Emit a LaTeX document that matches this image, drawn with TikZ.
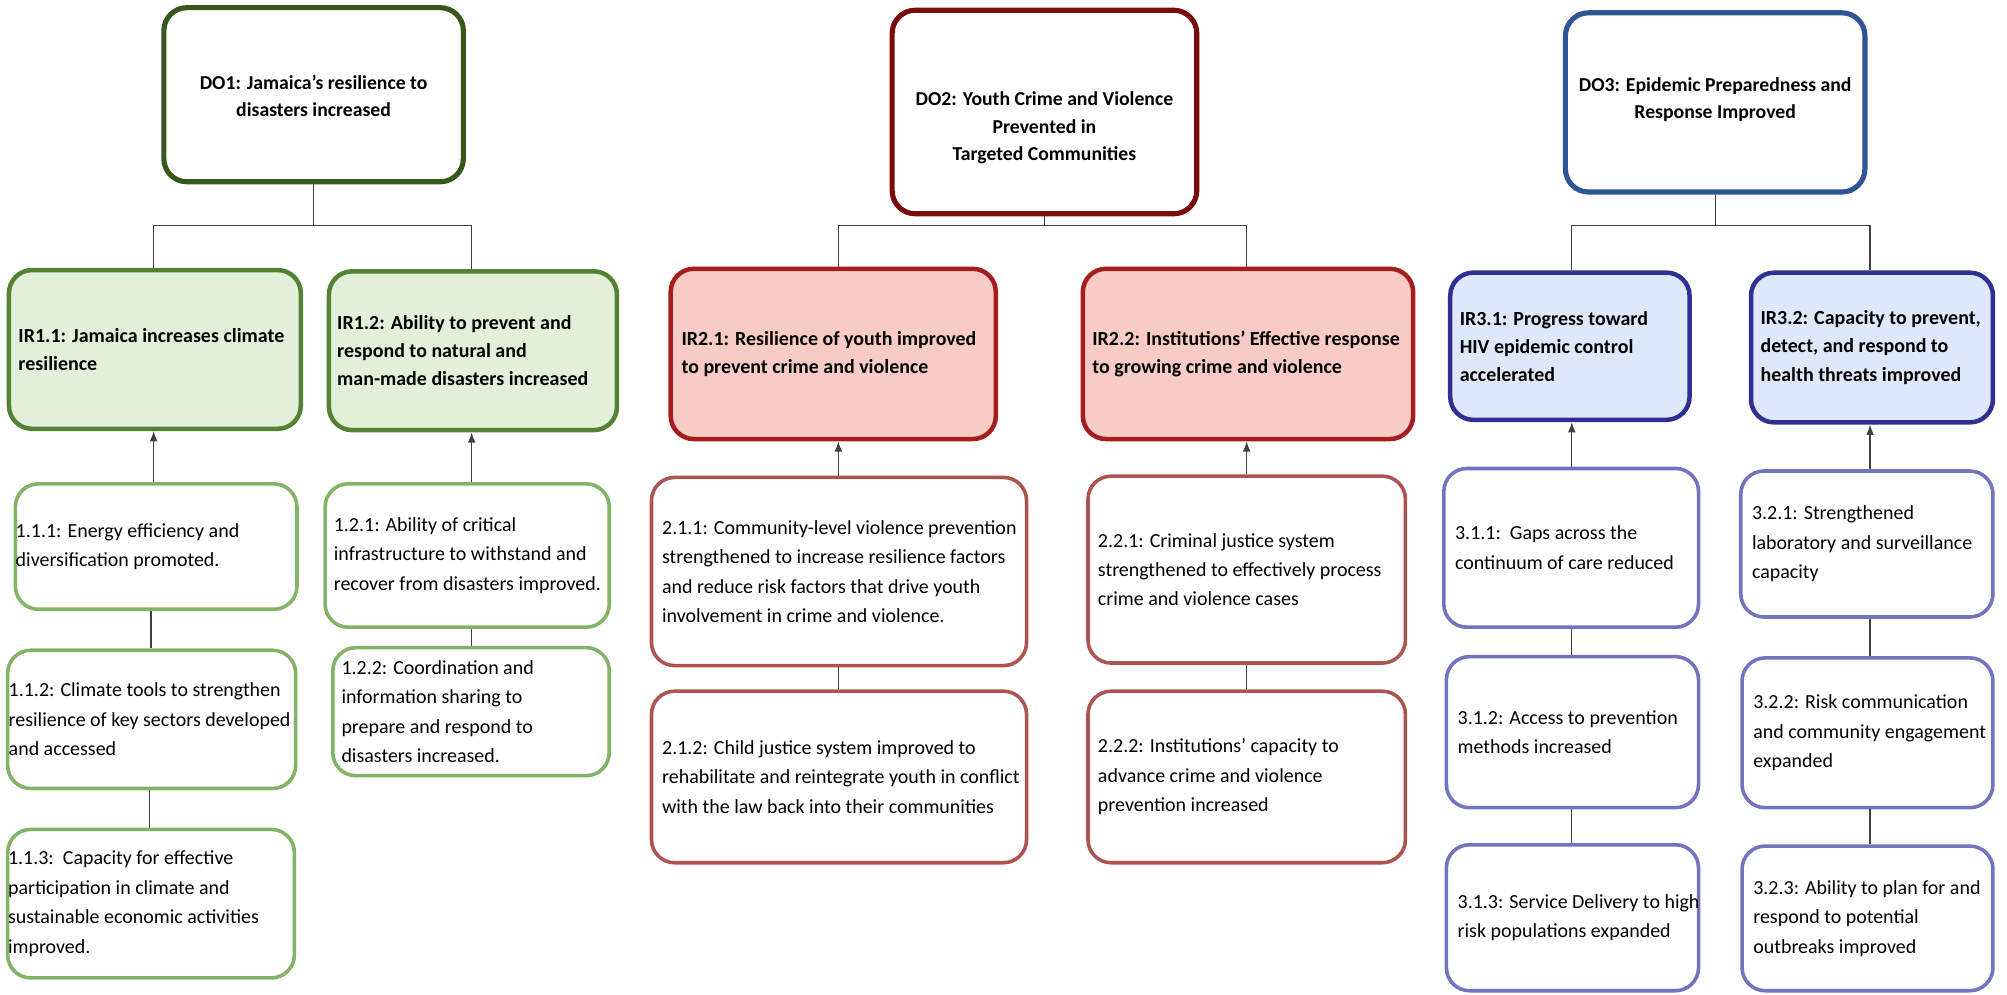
\documentclass[tikz,border=0pt]{standalone}
\usepackage{fontspec}
\setmainfont{Carlito}
\usetikzlibrary{arrows.meta}
\definecolor{doG}{HTML}{38571A}
\definecolor{irG}{HTML}{548235}
\definecolor{irGf}{HTML}{E2F0D9}
\definecolor{loG}{HTML}{82B366}
\definecolor{doR}{HTML}{7B0C0C}
\definecolor{irR}{HTML}{A51D1D}
\definecolor{irRf}{HTML}{F8CCC4}
\definecolor{loR}{HTML}{AD5350}
\definecolor{doB}{HTML}{2F5597}
\definecolor{irB}{HTML}{2E3192}
\definecolor{irBf}{HTML}{DEE8FB}
\definecolor{loB}{HTML}{7373BF}
\definecolor{conn}{HTML}{404040}
\tikzset{
  basebox/.style={rectangle, rounded corners=18pt, inner sep=0pt},
  dog/.style={basebox, draw=doG, line width=4pt, fill=white},
  dor/.style={basebox, draw=doR, line width=4pt, fill=white},
  dob/.style={basebox, draw=doB, line width=4pt, fill=white},
  irg/.style={basebox, draw=irG, line width=3.5pt, fill=irGf},
  irr/.style={basebox, draw=irR, line width=3.5pt, fill=irRf},
  irb/.style={basebox, draw=irB, line width=3.5pt, fill=irBf},
  log/.style={basebox, draw=loG, line width=2.8pt, fill=white},
  lor/.style={basebox, draw=loR, line width=2.8pt, fill=white},
  lob/.style={basebox, draw=loB, line width=2.8pt, fill=white},
  txt/.style={inner sep=0pt, align=left, font=\fontsize{15.6}{23}\selectfont},
  txtb/.style={inner sep=0pt, align=left, font=\fontsize{15.6}{22}\selectfont\bfseries},
  txtdo/.style={inner sep=0pt, align=center, font=\fontsize{15.4}{21.5}\selectfont\bfseries},
  link/.style={draw=conn, line width=1pt},
  uparrow/.style={link, -{Latex[length=8pt,width=6pt]}},
}
% name, box style, text style, cx, cy, w, h, margin, text
\newcommand\bx[9]{%
  \node[#2, minimum width=#6pt, minimum height=#7pt] (#1) at (#4,#5) {};
  \node[#3, anchor=west] (#1t) at ([xshift=#8pt]#1.west) {#9};}
\begin{document}
\begin{tikzpicture}[x=1pt, y=-1pt]
\useasboundingbox (0,0) rectangle (1568,777);
% ---------- column 1 ----------
\node[dog, minimum width=234pt, minimum height=136pt] (do1) at (245,74) {};
\node[txtdo] (do1t) at (245,75) {DO1: Jamaica’s resilience to\\disasters increased};
\bx{ir11}{irg}{txtb}{121}{273}{228}{124}{9}{IR1.1: Jamaica increases climate\\resilience}
\bx{ir12}{irg}{txtb}{369.5}{274}{225}{124}{8}{IR1.2: Ability to prevent and\\respond to natural and\\man-made disasters increased}
\bx{n111}{log}{txt}{122}{427}{220}{98}{1.5}{1.1.1: Energy efficiency and\\diversification promoted.}
\bx{n112}{log}{txt}{118.5}{562}{225}{108}{2}{1.1.2: Climate tools to strengthen\\resilience of key sectors developed\\and accessed}
\bx{n113}{log}{txt}{118}{706}{224}{116}{1.5}{1.1.3:\ \ Capacity for effective\\participation in climate and\\sustainable economic activities\\improved.}
\bx{n121}{log}{txt}{365}{434}{222}{112}{8}{1.2.1: Ability of critical\\infrastructure to withstand and\\recover from disasters improved.}
\bx{n122}{log}{txt}{368}{556}{216}{100}{8}{1.2.2: Coordination and\\information sharing to\\prepare and respond to\\disasters increased.}
\coordinate (b1) at (245,176);
\coordinate (x1a) at (120,0);
\coordinate (x1b) at (368.5,0);
\draw[link] (do1.south) -- (b1);
\draw[link] (ir11.north -| x1a) |- (b1) -| (ir12.north -| x1b);
\draw[uparrow] (n111.north -| x1a) -- (ir11.south -| x1a);
\draw[uparrow] (n121.north -| x1b) -- (ir12.south -| x1b);
\coordinate (x1c) at (118,0);
\coordinate (x1d) at (117,0);
\draw[link] (n111.south -| x1c) -- (n112.north -| x1c);
\draw[link] (n112.south -| x1d) -- (n113.north -| x1d);
\draw[link] (n121.south -| x1b) -- (n122.north -| x1b);
% ---------- column 2 ----------
\node[dor, minimum width=238pt, minimum height=159pt] (do2) at (816,87.5) {};
\node[txtdo] (do2t) at (816,100) {DO2: Youth Crime and Violence\\Prevented in\\Targeted Communities};
\bx{ir21}{irr}{txtb}{651}{276.5}{254}{133}{10}{IR2.1: Resilience of youth improved\\to prevent crime and violence}
\bx{ir22}{irr}{txtb}{975}{276.5}{258}{133}{9}{IR2.2: Institutions’ Effective response\\to growing crime and violence}
\bx{n211}{lor}{txt}{655.5}{446.5}{293}{147}{9.5}{2.1.1: Community-level violence prevention\\strengthened to increase resilience factors\\and reduce risk factors that drive youth\\involvement in crime and violence.}
\bx{n212}{lor}{txt}{655.5}{607}{293}{134}{9.5}{2.1.2: Child justice system improved to\\rehabilitate and reintegrate youth in conflict\\with the law back into their communities}
\bx{n221}{lor}{txt}{974}{445}{248}{146}{9}{2.2.1: Criminal justice system\\strengthened to effectively process\\crime and violence cases}
\bx{n222}{lor}{txt}{974}{607}{248}{134}{9}{2.2.2: Institutions’ capacity to\\advance crime and violence\\prevention increased}
\coordinate (b2) at (816,176);
\coordinate (x2a) at (655,0);
\coordinate (x2b) at (974,0);
\draw[link] (do2.south) -- (b2);
\draw[link] (ir21.north -| x2a) |- (b2) -| (ir22.north -| x2b);
\draw[uparrow] (n211.north -| x2a) -- (ir21.south -| x2a);
\draw[uparrow] (n221.north -| x2b) -- (ir22.south -| x2b);
\draw[link] (n211.south -| x2a) -- (n212.north -| x2a);
\draw[link] (n221.south -| x2b) -- (n222.north -| x2b);
% ---------- column 3 ----------
\node[dob, minimum width=234pt, minimum height=140pt] (do3) at (1340,80) {};
\node[txtdo] (do3t) at (1340,78) {DO3: Epidemic Preparedness and\\Response Improved};
\bx{ir31}{irb}{txtb}{1226.5}{270.5}{187}{115}{9}{IR3.1: Progress toward\\HIV epidemic control\\accelerated}
\bx{ir32}{irb}{txtb}{1462.5}{271.5}{189}{117}{9}{IR3.2: Capacity to prevent,\\detect, and respond to\\health threats improved}
\bx{n311}{lob}{txt}{1227.5}{428}{199}{124}{10}{3.1.1:\ \ Gaps across the\\continuum of care reduced}
\bx{n312}{lob}{txt}{1228.5}{572}{197}{118}{10}{3.1.2: Access to prevention\\methods increased}
\bx{n313}{lob}{txt}{1228.5}{717}{197}{114}{10}{3.1.3: Service Delivery to high\\risk populations expanded}
\bx{n321}{lob}{txt}{1458.5}{425}{197}{114}{10}{3.2.1: Strengthened\\laboratory and surveillance\\capacity}
\bx{n322}{lob}{txt}{1459}{572.5}{196}{117}{10}{3.2.2: Risk communication\\and community engagement\\expanded}
\bx{n323}{lob}{txt}{1459}{717.5}{196}{113}{10}{3.2.3: Ability to plan for and\\respond to potential\\outbreaks improved}
\coordinate (b3) at (1340,176);
\coordinate (x3a) at (1228,0);
\coordinate (x3b) at (1461,0);
\draw[link] (do3.south) -- (b3);
\draw[link] (ir31.north -| x3a) |- (b3) -| (ir32.north -| x3b);
\draw[uparrow] (n311.north -| x3a) -- (ir31.south -| x3a);
\draw[uparrow] (n321.north -| x3b) -- (ir32.south -| x3b);
\draw[link] (n311.south -| x3a) -- (n312.north -| x3a);
\draw[link] (n312.south -| x3a) -- (n313.north -| x3a);
\draw[link] (n321.south -| x3b) -- (n322.north -| x3b);
\draw[link] (n322.south -| x3b) -- (n323.north -| x3b);
\end{tikzpicture}
\end{document}
